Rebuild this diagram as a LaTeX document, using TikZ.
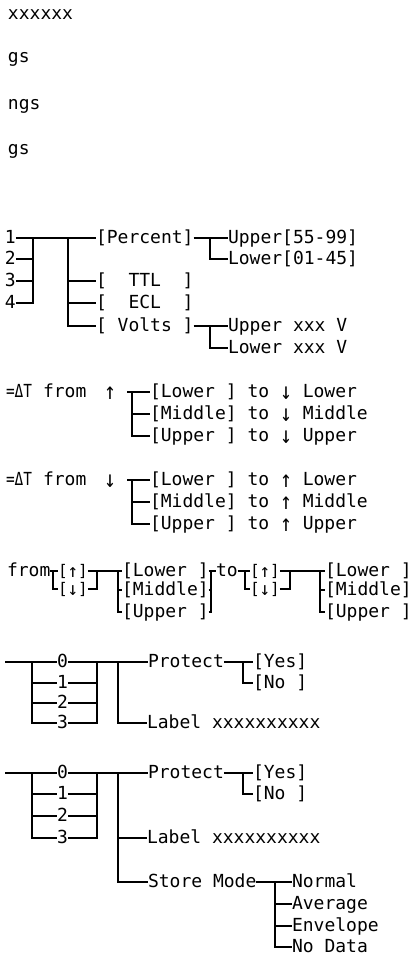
\documentclass[tikz,border=0pt]{standalone}
\usepackage{fontspec}
\newfontfamily\mono{DejaVu Sans Mono}
\begin{document}
\begin{tikzpicture}[x=1pt,y=-1pt,
  t/.style={font={\mono\fontsize{18pt}{20pt}\selectfont}, inner sep=0pt, outer sep=0pt, text height=11pt, text depth=0pt, anchor=west},
  tb/.style={t, font={\mono\fontsize{16pt}{18pt}\selectfont}, text height=10pt},
  ln/.style={line width=1.1pt}]
\useasboundingbox (0,0) rectangle (417,968);
\newcommand\upar{\raisebox{-2pt}{\scalebox{1.1}[1.3]{↑}}}
\newcommand\dnar{\raisebox{-2pt}{\scalebox{1.1}[1.3]{↓}}}
\newcommand\upbr{\raisebox{-1pt}{\scalebox{1.1}[1.15]{↑}}}
\newcommand\dnbr{\raisebox{-1pt}{\scalebox{1.1}[1.15]{↓}}}

% header texts
\node[t,anchor=base west] (h1) at (8,20) {xxxxxx};
\node[t,anchor=base west] (h2) at (8,63) {gs};
\node[t,anchor=base west] (h3) at (8,110) {ngs};
\node[t,anchor=base west] (h4) at (8,155) {gs};

% ---- section 1
\node[t] (d1) at (5,238) {1};
\node[t] (d2) at (5,259) {2};
\node[t] (d3) at (5,281) {3};
\node[t] (d4) at (5,303) {4};
\coordinate (j1) at (33,238);
\coordinate (j2) at (68,238);
\node[t] (pct) at (96,238) {[Percent]};
\node[t] (ttl) at (96,281) {[~~TTL~~]};
\node[t] (ecl) at (96,303) {[~~ECL~~]};
\node[t] (vlt) at (96,326) {[~Volts~]};
\coordinate (j3) at (210,238);
\node[t] (up1) at (228,238) {Upper[55-99]};
\node[t] (lo1) at (228,259) {Lower[01-45]};
\coordinate (j4) at (210,326);
\node[t] (upv) at (228,326) {Upper xxx V};
\node[t] (lov) at (228,348) {Lower xxx V};
\draw[ln] (d1.east) -- (pct.west);
\draw[ln] (d2.east) -- (d2.east -| j1);
\draw[ln] (d3.east) -- (d3.east -| j1);
\draw[ln] (d4.east) -| (j1);
\draw[ln] (j2) |- (vlt.west);
\draw[ln] (ttl.west -| j2) -- (ttl.west);
\draw[ln] (ecl.west -| j2) -- (ecl.west);
\draw[ln] (pct.east) -- (up1.west);
\draw[ln] (j3) |- (lo1.west);
\draw[ln] (vlt.east) -- (upv.west);
\draw[ln] (j4) |- (lov.west);

% ---- section 2
\node[t] (eqA) at (6,392) {\scalebox{0.8}[1]{=ΔT}};
\node[t] (frA) at (43,392) {from};
\node[t] (arA) at (104,392) {\upar};
\coordinate (k1) at (127,392);
\coordinate (k2) at (132,392);
\node[t] (a1) at (150,392) {[Lower~] to \dnar{} Lower};
\node[t] (a2) at (150,414) {[Middle] to \dnar{} Middle};
\node[t] (a3) at (150,436) {[Upper~] to \dnar{} Upper};
\draw[ln] (k1) -- (a1.west);
\draw[ln] (k2) |- (a3.west);
\draw[ln] (a2.west -| k2) -- (a2.west);

% ---- section 3
\node[t] (eqB) at (6,480) {\scalebox{0.8}[1]{=ΔT}};
\node[t] (frB) at (43,480) {from};
\node[t] (arB) at (104,480) {\dnar};
\coordinate (m1) at (127,480);
\coordinate (m2) at (132,480);
\node[t] (b1) at (150,480) {[Lower~] to \upar{} Lower};
\node[t] (b2) at (150,502) {[Middle] to \upar{} Middle};
\node[t] (b3) at (150,524) {[Upper~] to \upar{} Upper};
\draw[ln] (m1) -- (b1.west);
\draw[ln] (m2) |- (b3.west);
\draw[ln] (b2.west -| m2) -- (b2.west);

% ---- section 4
\node[t] (frC) at (7,571) {from};
\node[tb] (upA) at (58,571) {[\upbr]};
\node[tb] (dnA) at (58,589) {[\dnbr]};
\coordinate (p1) at (53,571);
\coordinate (p2) at (97,571);
\coordinate (p3) at (118,571);
\node[t] (loA) at (122,571) {[Lower~]};
\node[t] (miA) at (122,590) {[Middle]};
\node[t] (uA) at (122,612) {[Upper~]};
\coordinate (p4) at (211,571);
\node[t] (toC) at (216,571) {to};
\coordinate (p5) at (245,571);
\node[tb] (upB) at (250,571) {[\upbr]};
\node[tb] (dnB) at (250,589) {[\dnbr]};
\coordinate (p6) at (290,571);
\coordinate (p7) at (320,571);
\node[t] (loB) at (325,571) {[Lower~]};
\node[t] (miB) at (325,590) {[Middle]};
\node[t] (uB) at (325,612) {[Upper~]};
\draw[ln] (frC.east) -- (upA.west);
\draw[ln] (p1) |- (dnA.west);
\draw[ln] (upA.east) -- (loA.west);
\draw[ln] (dnA.east) -| (p2);
\draw[ln] (p3) |- (uA.west);
\draw[ln] (miA.west -| p3) -- (miA.west);
\draw[ln] (loA.east) -- (toC.west);
\draw[ln] (uA.east) -| (p4);
\draw[ln] (miA.east) -- (miA.east -| p4);
\draw[ln] (toC.east) -- (upB.west);
\draw[ln] (p5) |- (dnB.west);
\draw[ln] (upB.east) -- (loB.west);
\draw[ln] (dnB.east) -| (p6);
\draw[ln] (p7) |- (uB.west);
\draw[ln] (miB.west -| p7) -- (miB.west);

% ---- section 5
\coordinate (s0) at (5,662);
\coordinate (q1) at (32,662);
\coordinate (q2) at (97,662);
\coordinate (q3) at (118,662);
\coordinate (q4) at (243,662);
\node[t] (z0) at (57,662) {0};
\node[t] (z1) at (57,683) {1};
\node[t] (z2) at (57,703) {2};
\node[t] (z3) at (57,723) {3};
\node[t] (pr1) at (148,662) {Protect};
\node[t] (ye1) at (253,662) {[Yes]};
\node[t] (no1) at (253,683) {[No~]};
\node[t] (lb1) at (147,723) {Label xxxxxxxxxx};
\draw[ln] (s0) -- (z0.west);
\draw[ln] (q1) |- (z3.west);
\draw[ln] (z1.west -| q1) -- (z1.west);
\draw[ln] (z2.west -| q1) -- (z2.west);
\draw[ln] (z0.east) -- (pr1.west);
\draw[ln] (z3.east) -| (q2);
\draw[ln] (z1.east) -- (z1.east -| q2);
\draw[ln] (z2.east) -- (z2.east -| q2);
\draw[ln] (q3) |- (lb1.west);
\draw[ln] (pr1.east) -- (ye1.west);
\draw[ln] (q4) |- (no1.west);

% ---- section 6
\coordinate (r0) at (5,773);
\coordinate (u1) at (32,773);
\coordinate (u2) at (97,773);
\coordinate (u3) at (118,773);
\coordinate (u4) at (243,773);
\node[t] (w0) at (57,773) {0};
\node[t] (w1) at (57,794) {1};
\node[t] (w2) at (57,816) {2};
\node[t] (w3) at (57,838) {3};
\node[t] (pr2) at (148,773) {Protect};
\node[t] (ye2) at (253,773) {[Yes]};
\node[t] (no2) at (253,794) {[No~]};
\node[t] (lb2) at (147,838) {Label xxxxxxxxxx};
\node[t] (sm) at (148,882) {Store Mode};
\coordinate (u5) at (275,882);
\node[t] (nm) at (292,882) {Normal};
\node[t] (av) at (292,904) {Average};
\node[t] (ev) at (292,926) {Envelope};
\node[t] (nd) at (292,947) {No Data};
\draw[ln] (r0) -- (w0.west);
\draw[ln] (u1) |- (w3.west);
\draw[ln] (w1.west -| u1) -- (w1.west);
\draw[ln] (w2.west -| u1) -- (w2.west);
\draw[ln] (w0.east) -- (pr2.west);
\draw[ln] (w3.east) -| (u2);
\draw[ln] (w1.east) -- (w1.east -| u2);
\draw[ln] (w2.east) -- (w2.east -| u2);
\draw[ln] (u3) |- (sm.west);
\draw[ln] (lb2.west -| u3) -- (lb2.west);
\draw[ln] (pr2.east) -- (ye2.west);
\draw[ln] (u4) |- (no2.west);
\draw[ln] (sm.east) -- (nm.west);
\draw[ln] (u5) |- (nd.west);
\draw[ln] (av.west -| u5) -- (av.west);
\draw[ln] (ev.west -| u5) -- (ev.west);
\end{tikzpicture}
\end{document}
